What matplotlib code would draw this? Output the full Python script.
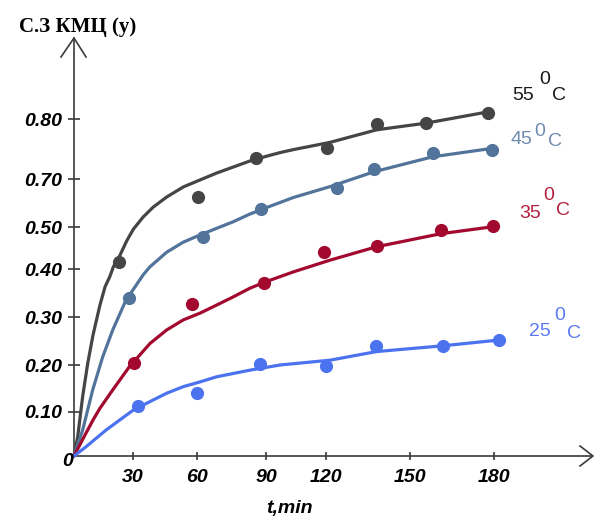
import numpy as np
import matplotlib
matplotlib.use("Agg")
import matplotlib.pyplot as plt
from matplotlib.lines import Line2D
from matplotlib.transforms import IdentityTransform

# ---------------- data ----------------
series_names = ["55", "45", "35", "25"]

# measured points (t, min ; degree of substitution)
pts_t_55 = [23.0, 60.3, 85.7, 120.5, 138.1, 155.6, 178.0]
pts_y_55 = [0.417, 0.626, 0.735, 0.752, 0.791, 0.794, 0.810]
pts_t_45 = [28.0, 62.5, 87.7, 123.8, 137.1, 158.1, 179.2]
pts_y_45 = [0.339, 0.477, 0.574, 0.661, 0.716, 0.743, 0.748]
pts_t_35 = [30.5, 57.8, 89.0, 119.0, 138.1, 161.0, 179.5]
pts_y_35 = [0.204, 0.327, 0.371, 0.441, 0.455, 0.493, 0.504]
pts_t_25 = [32.2, 59.9, 87.4, 119.8, 137.9, 161.7, 181.8]
pts_y_25 = [0.113, 0.140, 0.202, 0.198, 0.240, 0.240, 0.252]

# fitted curves
crv_t_55 = [0, 1.9, 4.4, 7.0, 9.7, 13.2, 15.8, 18.3, 20.0, 23.4, 26.8, 30.2, 34.8, 39.5,
            45.8, 53.6, 61.3, 68.6, 75.8, 83.0, 90.3, 97.0, 103.7, 121.4, 138.1, 155.6, 178.0]
crv_y_55 = [0, 0.044, 0.133, 0.204, 0.263, 0.325, 0.363, 0.385, 0.405, 0.433, 0.467, 0.495, 0.542, 0.583,
            0.625, 0.667, 0.696, 0.710, 0.720, 0.730, 0.738, 0.744, 0.749, 0.761, 0.782, 0.793, 0.812]
crv_t_45 = [0, 4.4, 9.5, 14.6, 19.7, 26.4, 31.6, 34.8, 37.9, 45.8, 53.6, 61.3, 68.6, 75.8,
            83.0, 90.3, 97.0, 103.7, 121.4, 137.1, 158.1, 179.2]
crv_y_45 = [0, 0.059, 0.147, 0.217, 0.273, 0.335, 0.367, 0.388, 0.405, 0.440, 0.464, 0.481, 0.497, 0.522,
            0.554, 0.581, 0.602, 0.623, 0.668, 0.712, 0.737, 0.751]
crv_t_35 = [0, 6.1, 9.7, 13.2, 19.7, 28.1, 38.0, 45.8, 53.6, 61.3, 68.6, 75.8, 83.0, 90.3,
            97.0, 103.7, 121.4, 138.1, 161.0, 179.5]
crv_y_35 = [0, 0.052, 0.082, 0.108, 0.147, 0.196, 0.245, 0.273, 0.294, 0.308, 0.325, 0.342, 0.360, 0.374,
            0.384, 0.394, 0.421, 0.453, 0.484, 0.501]
crv_t_25 = [0, 6.1, 16.3, 30.1, 37.9, 45.8, 53.6, 61.3, 68.6, 75.8, 83.0, 97.0, 107.0, 121.4,
            138.1, 161.7, 181.8]
crv_y_25 = [0, 0.021, 0.059, 0.104, 0.122, 0.140, 0.154, 0.164, 0.175, 0.182, 0.189, 0.200, 0.204, 0.210,
            0.228, 0.240, 0.252]

x_ticks = [30, 60, 90, 120, 150, 180]
x_ticklabels = ["30", "60", "90", "120", "150", "180"]
y_ticks = [0.1, 0.2, 0.3, 0.4, 0.5, 0.7, 0.8]
y_ticklabels = ["0.10", "0.20", "0.30", "0.40", "0.50", "0.70", "0.80"]

title_text = "С.З КМЦ (у)"
x_label = "t,min"

# ---------------- styling ----------------
colors = {"55": "#454545", "45": "#52739a", "35": "#a3092f", "25": "#4c73ef"}
label_colors = {"55": "#1a1a1a", "45": "#6f8cb0", "35": "#b3203f", "25": "#5a7af0"}

W, H = 594, 519
fig = plt.figure(figsize=(W / 100, H / 100), dpi=100)


def fx(px):
    return px / W


def fy(py):
    return 1 - py / H


# the drawn axes are not uniformly spaced: map tick values to their pixel offsets
x_nom = [-30, 0, 30, 60, 90, 120, 150, 180, 300]
x_pix = [-59, 0, 59, 123, 192, 252, 336, 420, 756]
y_nom = [-0.1, 0, 0.1, 0.2, 0.3, 0.4, 0.5, 0.7, 0.8, 1.2]
y_pix = [-44, 0, 44, 91, 139, 187, 229, 277, 337, 577]


def xf(v):
    return np.interp(v, x_nom, x_pix)


def xi(v):
    return np.interp(v, x_pix, x_nom)


def yf(v):
    return np.interp(v, y_nom, y_pix)


def yi(v):
    return np.interp(v, y_pix, y_nom)


x0, x1, ytop, ybot = 74, 592, 38, 456
ax = fig.add_axes([fx(x0), fy(ybot), (x1 - x0) / W, (ybot - ytop) / H])
ax.set_xscale("function", functions=(xf, xi))
ax.set_yscale("function", functions=(yf, yi))
ax.set_xlim(0, float(xi(x1 - x0)))
ax.set_ylim(0, float(yi(ybot - ytop)))

data = {
    "55": (crv_t_55, crv_y_55, pts_t_55, pts_y_55),
    "45": (crv_t_45, crv_y_45, pts_t_45, pts_y_45),
    "35": (crv_t_35, crv_y_35, pts_t_35, pts_y_35),
    "25": (crv_t_25, crv_y_25, pts_t_25, pts_y_25),
}
for name in series_names:
    ct, cy, pt, py = data[name]
    ax.plot(ct, cy, color=colors[name], lw=2.3, solid_capstyle="round",
            solid_joinstyle="round", clip_on=False, zorder=3)
    ax.plot(pt, py, "o", color=colors[name], ms=9.5, mec="none",
            clip_on=False, zorder=4)

for s in ["top", "right"]:
    ax.spines[s].set_visible(False)
for s in ["left", "bottom"]:
    ax.spines[s].set_color("#3a3a3a")
    ax.spines[s].set_linewidth(1.2)

tick_font = dict(family="Liberation Sans", style="italic", weight="bold", size=14)
ax.set_xticks(x_ticks)
ax.set_xticklabels(x_ticklabels, fontdict=tick_font)
ax.set_yticks(y_ticks)
ax.set_yticklabels(y_ticklabels, fontdict=tick_font)
ax.tick_params(axis="y", direction="inout", length=9, width=1.2, color="#3a3a3a", pad=4)
ax.tick_params(axis="x", direction="inout", length=6, width=1.2, color="#3a3a3a", pad=6)
ax.minorticks_off()

# arrowheads (open chevrons) in pixel coordinates
ident = IdentityTransform()
fig.add_artist(Line2D([61, 74, 86], [H - 57, H - ytop, H - 57], color="#3a3a3a",
                      lw=1.2, transform=ident))
fig.add_artist(Line2D([580, 593, 580], [H - 446, H - ybot, H - 466], color="#3a3a3a",
                      lw=1.2, transform=ident))

# texts
fig.text(fx(78), fy(27), title_text, ha="center", va="center",
         family="Liberation Serif", weight="bold", size=15)
fig.text(fx(68), fy(462), "0", ha="center", va="center", **tick_font)
fig.text(fx(289), fy(509), x_label, ha="center", va="center",
         family="Liberation Sans", style="italic", weight="bold", size=14)

label_pos = {
    "55": ((523, 96), (545, 79), (559, 96)),
    "45": ((521, 140), (540, 131), (555, 141)),
    "35": ((530, 213), (549, 196), (563, 211)),
    "25": ((540, 332), (560, 316), (574, 334)),
}
for name in series_names:
    (nx, ny), (zx, zy), (cx, cy) = label_pos[name]
    kw = dict(ha="center", va="center", family="Liberation Sans", size=14,
              color=label_colors[name])
    fig.text(fx(nx), fy(ny), name, **kw)
    fig.text(fx(zx), fy(zy), "0", **kw)
    fig.text(fx(cx), fy(cy), "C", **kw)

fig.savefig("out.png", dpi=100)
